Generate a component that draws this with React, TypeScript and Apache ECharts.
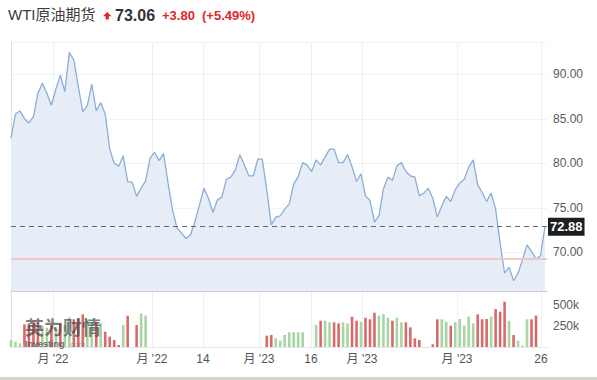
import React, { useEffect, useRef } from "react";
import * as echarts from "echarts";

// Weekly close prices (USD), oldest to newest
const prices = [
  82.83, 85.56, 85.9, 85.03, 84.55, 85.26, 87.89, 89.01, 87.89, 86.54,
  88.37, 89.91, 88.07, 92.49, 91.63, 88.63, 85.82, 86.46, 88.9, 85.9,
  86.83, 85.56, 81.6, 80.02, 79.69, 80.84, 77.96, 77.89, 76.29, 77.21,
  78.03, 80.58, 81.26, 80.31, 81.1, 77.78, 74.78, 72.72, 72.16, 71.55,
  71.97, 73.46, 75.34, 77.21, 76.09, 74.47, 75.9, 76.2, 78.22, 78.45,
  79.27, 80.96, 79.83, 78.6, 78.6, 80.47, 80.47, 77.02, 73.09, 73.96,
  74.1, 74.85, 75.42, 77.66, 78.52, 80.09, 79.8, 79.08, 80.39, 79.83,
  80.7, 81.6, 81.6, 80.09, 80.09, 80.99, 79.64, 77.96, 78.82, 76.35,
  75.82, 73.39, 74.1, 77.13, 78.45, 78.07, 79.72, 80.09, 79.08, 78.6,
  78.45, 76.35, 76.65, 77.21, 76.09, 73.96, 75.22, 76.27, 75.71, 77.02,
  77.78, 78.22, 79.57, 80.39, 77.58, 76.72, 75.71, 76.65, 74.85, 71.03,
  67.66, 68.34, 66.8, 67.66, 69.16, 70.84, 70.09, 69.24, 69.61, 72.88,
];

// Volume in thousands (null = no bar)
const volumes: (number | null)[] = [
  83, 63, 44, 270, 282, 301, 290, 250, 230, 260,
  240, 280, 260, 354, 330, 341, 389, 330, 301, 301,
  282, 182, 123, 83, 24, 262, 373, null, 262, 401,
  373, null, null, null, null, null, null, null, null, null,
  null, null, null, null, null, null, null, null, null, null,
  null, null, null, null, null, null, null, 135, 143, 103,
  75, 143, 175, 175, 175, 175, null, null, 262, 313,
  313, 294, 294, 282, 294, 282, 361, 313, 301, 349,
  330, 408, 373, 393, 349, 313, 349, 294, 294, 234,
  103, 83, null, null, 32, 330, 330, 301, 254, 294,
  333, 254, 361, 282, 389, 330, 333, 361, 452, 420,
  539, 313, 143, 75, 15, 330, 330, 373, null, null,
];

// r = red bar, g = green bar, - = none
const volumeSide = (
  "gggrrrrggr" + "grggrrrggr" + "grrrrgr-rg" + "g---------" + "----------" +
  "-------rrg" + "gggggg--gr" + "ggrrggrrgr" + "rrgggrggrr" + "rr--rrggrg" +
  "ggggrrrgrr" + "rgrgggrr--"
).split("");

const lastPrice = 72.88;
const prevClose = 69.26;

const xTickPositions = [9.36, 31.42, 42.79, 55.27, 66.86, 78.23, 99.4, 118.1];
const xTickLabels = ["月 '22", "月 '22", "14", "月 '23", "16", "月 '23", "月 '23", "26"];

const titleName = "WTI原油期货";
const titlePrice = "73.06";
const titleChange = "+3.80";
const titleChangePct = "(+5.49%)";

const FONT = "'Liberation Sans', 'Noto Sans CJK SC', sans-serif";
const RED = "#d86a6b";
const GREEN = "#a9d4a4";

function xLabel(v: number): string {
  let best = 0;
  let bd = Infinity;
  xTickPositions.forEach((p, i) => {
    const d = Math.abs(p - v);
    if (d < bd) {
      bd = d;
      best = i;
    }
  });
  return xTickLabels[best];
}

export default function App() {
  const ref = useRef<HTMLDivElement>(null);

  useEffect(() => {
    if (!ref.current) return;
    const chart = echarts.init(ref.current, undefined, { renderer: "svg" });

    const xMax = 119.45;
    const option: any = {
      animation: false,
      textStyle: { fontFamily: FONT },
      grid: [
        { left: 11, right: 50, top: 42, height: 249 },
        { left: 11, right: 50, top: 292, height: 55 },
      ],
      xAxis: [
        {
          type: "value",
          gridIndex: 0,
          min: 0,
          max: xMax,
          axisLine: { show: true, onZero: false, lineStyle: { color: "#cfcfcf", width: 1 } },
          axisTick: { show: false, customValues: xTickPositions },
          axisLabel: { show: false, customValues: xTickPositions },
          splitLine: { show: true, lineStyle: { color: "#edf0f4", width: 1 } },
        },
        {
          type: "value",
          gridIndex: 1,
          min: 0,
          max: xMax,
          axisLine: { show: true, onZero: false, lineStyle: { color: "#e6e6e6", width: 1 } },
          axisTick: { show: false, customValues: xTickPositions },
          axisLabel: {
            customValues: xTickPositions,
            formatter: (v: number) => xLabel(v),
            color: "#555",
            fontSize: 12,
            margin: 6,
            fontFamily: FONT,
          },
          splitLine: { show: true, lineStyle: { color: "#edf0f4", width: 1 } },
        },
      ],
      yAxis: [
        {
          type: "value",
          gridIndex: 0,
          position: "right",
          min: 65.65,
          max: 93.65,
          minInterval: 5,
          maxInterval: 5,
          axisLine: { show: true, lineStyle: { color: "#dddddd" } },
          axisTick: { show: false },
          axisLabel: {
            formatter: (v: number) => v.toFixed(2),
            showMinLabel: false,
            showMaxLabel: false,
            color: "#5a5a5a",
            fontSize: 12,
            margin: 6,
            fontFamily: FONT,
          },
          splitLine: { show: true, lineStyle: { color: "#f1f2f4" } },
        },
        {
          type: "value",
          gridIndex: 1,
          position: "right",
          min: 0,
          max: 655000,
          minInterval: 250000,
          maxInterval: 250000,
          axisLine: { show: true, lineStyle: { color: "#dddddd" } },
          axisTick: { show: false },
          axisLabel: {
            formatter: (v: number) => v / 1000 + "k",
            showMinLabel: false,
            showMaxLabel: false,
            color: "#5a5a5a",
            fontSize: 12,
            margin: 6,
            fontFamily: FONT,
          },
          splitLine: { show: false },
        },
      ],
      series: [
        {
          type: "line",
          xAxisIndex: 0,
          yAxisIndex: 0,
          data: prices.map((p, i) => [i, p]),
          showSymbol: false,
          symbol: "none",
          lineStyle: { color: "#8aaed9", width: 1.3 },
          areaStyle: { color: "#e7edf6", opacity: 1 },
          z: 2,
          markLine: {
            silent: true,
            symbol: ["none", "none"],
            animation: false,
            data: [
              {
                yAxis: prevClose,
                lineStyle: { color: "#f0c6c6", width: 2, type: "solid" },
                label: { show: false },
              },
              {
                yAxis: lastPrice,
                lineStyle: { color: "#666", width: 1.2, type: [5, 4] },
                label: {
                  show: true,
                  position: "end",
                  distance: 1,
                  formatter: lastPrice.toFixed(2),
                  backgroundColor: "#1e1e1e",
                  color: "#fff",
                  fontWeight: "bold",
                  fontSize: 13,
                  padding: [3, 2, 2, 2],
                  fontFamily: FONT,
                },
              },
            ],
          },
        },
        {
          type: "bar",
          xAxisIndex: 1,
          yAxisIndex: 1,
          barWidth: 2.6,
          clip: false,
          data: volumes
            .map((v, i) =>
              v == null
                ? null
                : {
                    value: [i, v * 1000],
                    itemStyle: { color: volumeSide[i] === "r" ? RED : GREEN },
                  }
            )
            .filter((d) => d != null),
        },
      ],
      graphic: [
        {
          type: "text",
          left: 8,
          top: 7,
          style: { text: titleName, fontSize: 15, fill: "#3c3c3c", fontFamily: FONT },
        },
        {
          type: "polygon",
          shape: {
            points: [
              [107.2, 12],
              [111.4, 16.2],
              [108.8, 16.2],
              [108.8, 19.6],
              [105.6, 19.6],
              [105.6, 16.2],
              [103, 16.2],
            ],
          },
          style: { fill: "#e0262b" },
        },
        {
          type: "text",
          left: 115,
          top: 7,
          style: { text: titlePrice, fontSize: 16, fontWeight: "bold", fill: "#333", fontFamily: FONT },
        },
        {
          type: "text",
          left: 162,
          top: 9,
          style: { text: titleChange, fontSize: 13, fontWeight: "bold", fill: "#e0262b", fontFamily: FONT },
        },
        {
          type: "text",
          left: 202,
          top: 9,
          style: { text: titleChangePct, fontSize: 13, fontWeight: "bold", fill: "#e0262b", fontFamily: FONT },
        },
        {
          type: "text",
          left: 25,
          top: 317,
          z: 100,
          style: { text: "英为财情", fontSize: 19, fontWeight: "bold", fill: "rgba(70,70,70,0.7)", fontFamily: "'Noto Sans CJK SC', sans-serif" },
        },
        {
          type: "text",
          left: 25,
          top: 339,
          z: 100,
          style: { text: "Investing", fontSize: 9, fontWeight: "bold", fill: "rgba(70,70,70,0.75)", fontFamily: FONT },
        },
        {
          type: "text",
          left: 68,
          top: 340,
          z: 100,
          style: { text: ".com", fontSize: 8, fill: "rgba(120,120,120,0.6)", fontFamily: FONT },
        },
        {
          type: "rect",
          shape: { x: 0, y: 377, width: 597, height: 3 },
          style: { fill: "#d6d6ce" },
        },
      ],
    };

    chart.setOption(option);
    return () => chart.dispose();
  }, []);

  return (
    <div
      ref={ref}
      style={{ position: "fixed", left: 0, top: 0, width: 597, height: 380, background: "#fff" }}
    />
  );
}
